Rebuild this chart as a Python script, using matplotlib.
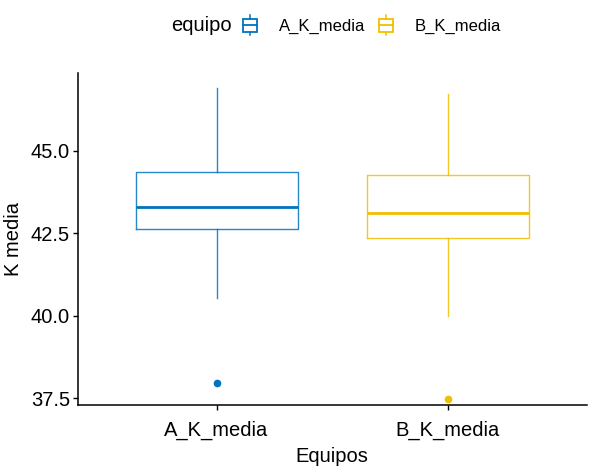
import matplotlib
matplotlib.use("Agg")
from matplotlib import pyplot as plt
from matplotlib.legend_handler import HandlerBase
from matplotlib.lines import Line2D
from matplotlib.patches import Rectangle

plt.rcParams['font.family'] = ['Liberation Sans', 'DejaVu Sans']

# datos
equipos = ['A_K_media', 'B_K_media']
colores = ['#0073C2', '#EFC000']
bigote_inf = [40.53, 40.0]
q1 = [42.62, 42.35]
mediana = [43.31, 43.12]
q3 = [44.36, 44.26]
bigote_sup = [46.89, 46.71]
atipicos = [[37.98], [37.48]]

stats = []
for i, nombre in enumerate(equipos):
    stats.append(dict(label=nombre, whislo=bigote_inf[i], q1=q1[i], med=mediana[i],
                      q3=q3[i], whishi=bigote_sup[i], fliers=atipicos[i]))

fig = plt.figure(figsize=(6, 4.69), dpi=100)
ax = fig.add_axes([0.1295, 0.1365, 0.8485, 0.7075])

for i, st in enumerate(stats):
    c = colores[i]
    ax.bxp([st], positions=[i + 1], widths=0.7, showcaps=False,
           boxprops=dict(color=c, linewidth=1.0, alpha=0.85),
           whiskerprops=dict(color=c, linewidth=1.0, alpha=0.85),
           medianprops=dict(color=c, linewidth=2.0),
           flierprops=dict(marker='o', markerfacecolor=c, markeredgecolor=c, markersize=4.5))

ax.set_xlim(0.4, 2.6)
ax.set_ylim(37.3, 47.35)
ax.set_yticks([37.5, 40.0, 42.5, 45.0])
ax.set_yticklabels(['37.5', '40.0', '42.5', '45.0'])
ax.set_xticks([1, 2])
ax.set_xticklabels(equipos)
ax.tick_params(labelsize=14.5, colors='black', length=3.5, width=1, pad=2)
ax.tick_params(axis='x', pad=8)
ax.spines['top'].set_visible(False)
ax.spines['right'].set_visible(False)
ax.spines['left'].set_linewidth(1.1)
ax.spines['bottom'].set_linewidth(1.1)
ax.set_xlabel('Equipos', fontsize=14.5, labelpad=5)
ax.set_ylabel('K media', fontsize=14.5, labelpad=5.5)


# simbolo de caja para la leyenda
class HandlerCaja(HandlerBase):
    def create_artists(self, legend, orig_handle, xdescent, ydescent, width, height, fontsize, trans):
        c = orig_handle.get_edgecolor()
        x0, w = -xdescent, width
        yc = -ydescent + height / 2
        h = 20 * 72 / 100  # altura total de la clave en puntos
        rect = Rectangle((x0, yc - h / 3), w, h * 2 / 3, fill=False, edgecolor=c, linewidth=1.3, transform=trans)
        med = Line2D([x0, x0 + w], [yc, yc], color=c, linewidth=1.3, transform=trans)
        arriba = Line2D([x0 + w / 2] * 2, [yc + h / 3, yc + h / 2], color=c, linewidth=1.1, transform=trans)
        abajo = Line2D([x0 + w / 2] * 2, [yc - h / 2, yc - h / 3], color=c, linewidth=1.1, transform=trans)
        return [rect, med, arriba, abajo]


handles = [Rectangle((0, 0), 1, 1, fill=False, edgecolor=c) for c in colores]
fig.text(0.285, 0.946, 'equipo', fontsize=14.5, va='center', ha='left')
fig.legend(handles, equipos, handler_map={Rectangle: HandlerCaja()}, ncol=2, frameon=False,
           loc='center left', bbox_to_anchor=(0.4045, 0.946), fontsize=12,
           handlelength=0.84, handleheight=1.2, columnspacing=0.82, handletextpad=1.33,
           borderpad=0, borderaxespad=0)

fig.savefig('out.png', dpi=100)
